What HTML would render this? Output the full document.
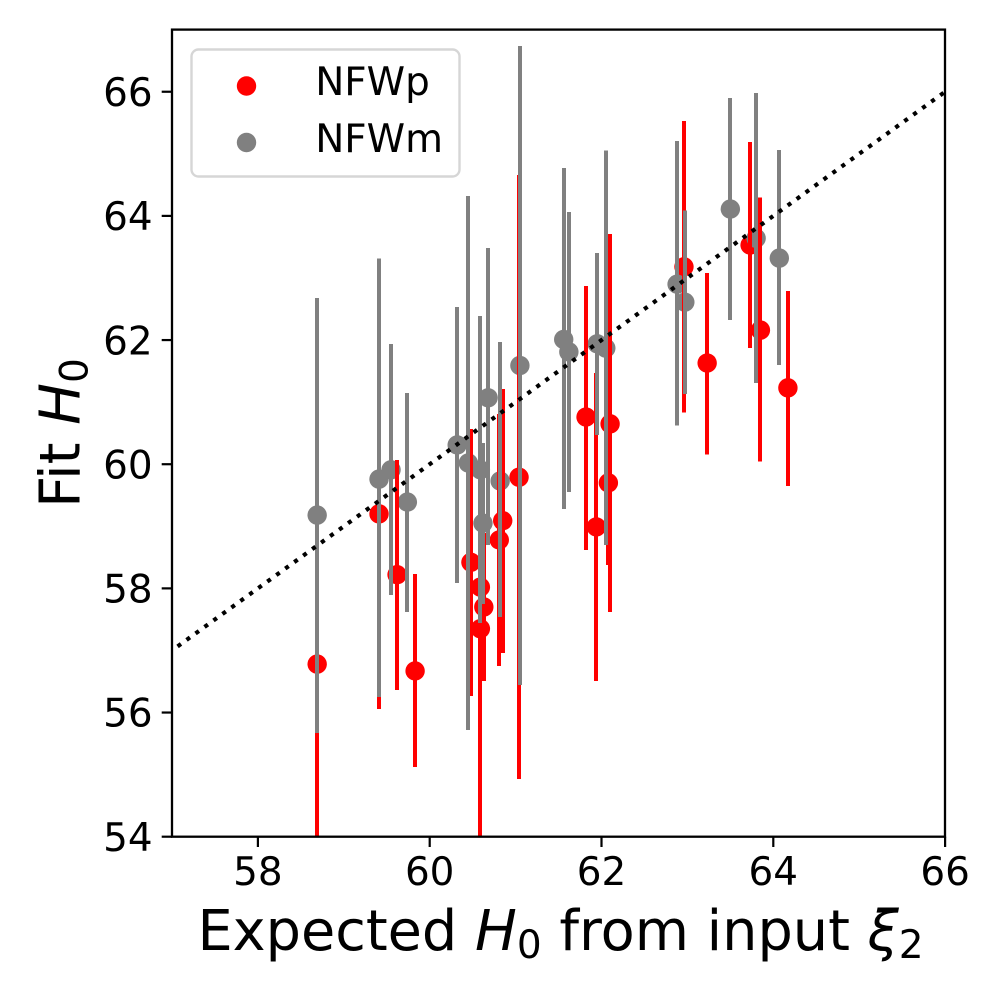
<!DOCTYPE html>
<html lang="en">
<head>
<meta charset="utf-8">
<title>Fit H0 vs expected H0</title>
<style>
html,body{margin:0;padding:0;background:#fff;}
svg{display:block;font-family:"DejaVu Sans","Liberation Sans",sans-serif;fill:#000;}
</style>
</head>
<body>
<svg id="chart" xmlns="http://www.w3.org/2000/svg" width="1000" height="1000" viewBox="0 0 1000 1000">
  <defs><clipPath id="plot-clip"><rect x="172" y="29.6" width="773" height="807.1"/></clipPath></defs>
  <rect x="0" y="0" width="1000" height="1000" fill="#fff"/>
  <g id="marks" clip-path="url(#plot-clip)"></g>
  <rect x="172" y="29.6" width="773" height="807.1" fill="none" stroke="#000" stroke-width="2.3"/>
  <g id="axes"></g>
  <text x="560.5" y="950" font-size="55.7" text-anchor="middle">Expected <tspan font-style="italic">H</tspan><tspan font-size="39" dy="8">0</tspan><tspan dy="-8"> from input </tspan><tspan font-style="italic">ξ</tspan><tspan font-size="39" dy="8">2</tspan></text>
  <text transform="translate(79.3,433) rotate(-90)" font-size="55.7" text-anchor="middle">Fit <tspan font-style="italic">H</tspan><tspan font-size="39" dy="8">0</tspan></text>
  <g>
    <rect x="191.5" y="49.5" width="268" height="127" rx="7" ry="7" fill="#fff" fill-opacity="0.8" stroke="#d6d6d6" stroke-width="2.4"/>
    <circle cx="246.5" cy="86" r="9.7" fill="#ff0000"/>
    <text x="315.2" y="95" font-size="38.9">NFWp</text>
    <circle cx="246.5" cy="142.5" r="9.7" fill="#808080"/>
    <text x="315.2" y="152" font-size="38.9">NFWm</text>
  </g>
</svg>
<script>
const xTicks = [58, 60, 62, 64, 66];
const yTicks = [54, 56, 58, 60, 62, 64, 66];
const refLine = [57, 66];

const nfwpX  = [58.69,59.41,59.62,59.83,60.48,60.59,60.63,60.59,60.81,60.85,61.04,61.82,61.94,62.08,62.10,62.96,63.23,63.73,63.85,64.17];
const nfwpY  = [56.78,59.20,58.22,56.67,58.42,58.02,57.70,57.35,58.78,59.09,59.79,60.76,58.99,59.70,60.65,63.18,61.63,63.53,62.16,61.23];
const nfwpHi = [59.91,62.34,60.07,58.23,60.57,59.75,58.89,61.03,60.81,61.21,64.66,62.87,61.47,61.02,63.71,65.53,63.08,65.19,64.30,62.79];
const nfwpLo = [53.66,56.06,56.36,55.12,56.27,56.33,56.51,53.66,56.75,56.96,54.93,58.62,56.51,58.38,57.62,60.83,60.16,61.87,60.04,59.65];

const nfwmX  = [58.69,59.41,59.55,59.74,60.32,60.45,60.59,60.62,60.68,60.82,61.05,61.56,61.62,61.95,62.05,62.88,62.97,63.50,63.80,64.07];
const nfwmY  = [59.18,59.76,59.91,59.39,60.31,60.02,59.91,59.05,61.07,59.73,61.59,62.01,61.81,61.94,61.87,62.90,62.61,64.11,63.64,63.32];
const nfwmHi = [62.68,63.31,61.94,61.15,62.53,64.32,62.39,60.34,63.48,61.97,66.74,64.77,64.06,63.40,65.05,65.21,64.09,65.90,65.98,65.06];
const nfwmLo = [55.67,56.25,57.89,57.62,58.09,55.72,57.44,57.75,58.70,57.54,56.44,59.28,59.55,60.47,58.70,60.62,61.13,62.32,61.31,61.60];

const NS = 'http://www.w3.org/2000/svg';
const xScale = v => 172 + 85.9 * (v - 57);
const yScale = v => 836.7 - 62.08 * (v - 54);
const marks = document.getElementById('marks');
const axes = document.getElementById('axes');

function make(tag, parent, attrs) {
  const el = document.createElementNS(NS, tag);
  for (const k in attrs) el.setAttribute(k, attrs[k]);
  parent.appendChild(el);
  return el;
}

function drawPoints(xs, ys, color, name) {
  xs.forEach((x, i) => {
    const c = make('circle', marks, {cx: xScale(x), cy: yScale(ys[i]), r: 9.7, fill: color});
    
    
  });
}

function drawBars(xs, his, los, color, name) {
  xs.forEach((x, i) => {
    const px = Math.round(xScale(x));
    const l = make('line', marks, {x1: px, x2: px, y1: yScale(his[i]), y2: yScale(los[i]), stroke: color, 'stroke-width': 4, 'shape-rendering': 'crispEdges'});
    
    
  });
}

drawPoints(nfwpX, nfwpY, '#ff0000', 'nfwp');
drawPoints(nfwmX, nfwmY, '#808080', 'nfwm');
drawBars(nfwpX, nfwpHi, nfwpLo, '#ff0000', 'nfwp');
drawBars(nfwmX, nfwmHi, nfwmLo, '#808080', 'nfwm');

const ref = make('line', marks, {
  x1: xScale(refLine[0]), y1: yScale(refLine[0]),
  x2: xScale(refLine[1]), y2: yScale(refLine[1]),
  stroke: '#000', 'stroke-width': 4.17, 'stroke-dasharray': '4.17 6.9', 'stroke-dashoffset': 4.17
});



xTicks.forEach(v => {
  const t = make('line', axes, {x1: xScale(v), x2: xScale(v), y1: 836.7, y2: 847, stroke: '#000', 'stroke-width': 2.2});
  
  
  const s = make('text', axes, {x: xScale(v), y: 885, 'font-size': 38.9, 'text-anchor': 'middle'});
  
  
  s.textContent = v;
});

yTicks.forEach(v => {
  const t = make('line', axes, {x1: 161.7, x2: 172, y1: yScale(v), y2: yScale(v), stroke: '#000', 'stroke-width': 2.2});
  
  
  const s = make('text', axes, {x: 152.6, y: yScale(v) + 14.2, 'font-size': 38.9, 'text-anchor': 'end'});
  
  
  s.textContent = v;
});
</script>
</body>
</html>
